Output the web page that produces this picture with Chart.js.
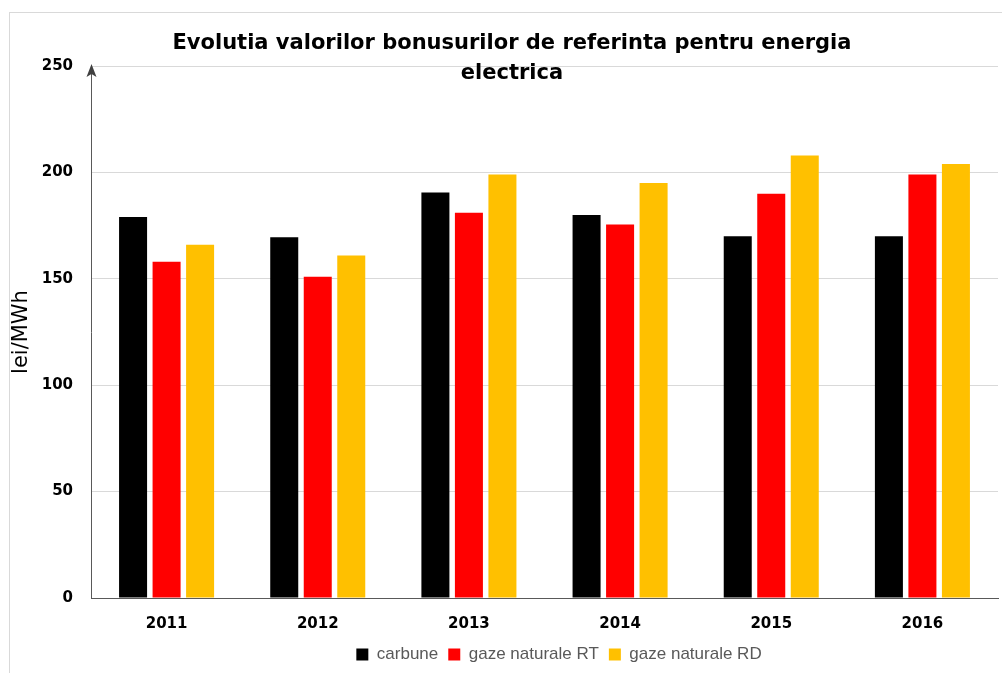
<!DOCTYPE html>
<html>
<head>
<meta charset="utf-8">
<script src="https://cdn.jsdelivr.net/npm/chart.js@4.4.1/dist/chart.umd.min.js"></script>
<style>
  html, body { margin: 0; padding: 0; background: #ffffff; overflow: hidden; }
  #wrap { position: relative; width: 1002px; height: 673px; }
  #frame { position: absolute; left: 9px; top: 12px; width: 1200px; height: 800px;
           border-left: 1px solid #d9d9d9; border-top: 1px solid #d9d9d9; }
  #c { position: absolute; left: 0; top: 0; }
</style>
</head>
<body>
<div id="wrap">
  <div id="frame"></div>
  <canvas id="c" width="1002" height="673"></canvas>
</div>
<script>
// date (lei/MWh)
const years = ['2011', '2012', '2013', '2014', '2015', '2016'];
const carbune = [179, 169.5, 190.5, 180, 170, 170];
const gazeRT = [158, 151, 181, 175.5, 190, 199];
const gazeRD = [166, 161, 199, 195, 208, 204];
const seriesNames = ['carbune', 'gaze naturale RT', 'gaze naturale RD'];
const titleLines = ['Evolutia valorilor bonusurilor de referinta pentru energia', 'electrica'];
const yMin = 0, yMax = 250, yStep = 50;

const COLORS = ['#000000', '#ff0000', '#ffc000'];

// titlul peste zona graficului, ca in Excel
const titlePlugin = {
    id: 'overTitle',
    afterDraw(chart) {
        const ctx = chart.ctx;
        ctx.save();
        ctx.fillStyle = '#000000';
        ctx.font = 'bold 21px "DejaVu Sans"';
        ctx.textAlign = 'center';
        ctx.textBaseline = 'alphabetic';
        ctx.fillText(titleLines[0], 512, 49);
        ctx.fillText(titleLines[1], 512, 79);
        ctx.restore();
    }
};

// sageata in varful axei Y
const arrowPlugin = {
    id: 'yArrow',
    afterDraw(chart) {
        const ctx = chart.ctx;
        const x = Math.round(chart.chartArea.left) + 0.5;
        const top = chart.chartArea.top;
        ctx.save();
        ctx.fillStyle = '#404040';
        ctx.beginPath();
        ctx.moveTo(x, top - 2);
        ctx.lineTo(x - 5, top + 11);
        ctx.lineTo(x, top + 8);
        ctx.lineTo(x + 5, top + 11);
        ctx.closePath();
        ctx.fill();
        ctx.restore();
    }
};

// legenda e centrata putin mai la dreapta in original
const legendShift = {
    id: 'legendShift',
    afterLayout(chart) {
        const lg = chart.legend;
        if (!lg) return;
        lg.left += 60;
        lg.right += 60;
    }
};

new Chart(document.getElementById('c'), {
    type: 'bar',
    data: {
        labels: years,
        datasets: [
            { label: seriesNames[0], data: carbune, backgroundColor: COLORS[0] },
            { label: seriesNames[1], data: gazeRT, backgroundColor: COLORS[1] },
            { label: seriesNames[2], data: gazeRD, backgroundColor: COLORS[2] }
        ]
    },
    options: {
        responsive: false, animation: false,
        layout: { padding: { top: 66, right: 4, left: 0, bottom: 0 } },
        datasets: { bar: { categoryPercentage: 0.665, barPercentage: 0.836 } },
        plugins: {
            title: { display: false },
            tooltip: { enabled: false },
            legend: {
                display: true, position: 'bottom',
                labels: {
                    color: '#595959', boxWidth: 12, boxHeight: 12, padding: 10,
                    font: { family: '"Liberation Sans"', size: 17 }
                }
            }
        },
        scales: {
            x: {
                grid: { drawOnChartArea: false, drawTicks: false },
                border: { color: '#595959', width: 1 },
                ticks: { color: '#000000', padding: 17, font: { family: '"DejaVu Sans"', weight: 'bold', size: 15 } },
                afterFit: (s) => { s.height = 38; }
            },
            y: {
                min: yMin, max: yMax,
                grid: { color: '#d9d9d9', drawTicks: false },
                border: { color: '#595959', width: 1 },
                ticks: { stepSize: yStep, color: '#000000', padding: 18, font: { family: '"DejaVu Sans"', weight: 'bold', size: 15 } },
                title: { display: true, text: 'lei/MWh', color: '#000000', padding: { top: 9, bottom: 0 },
                         font: { family: '"DejaVu Sans"', size: 21 } },
                afterFit: (s) => { s.width = 91; }
            }
        }
    },
    plugins: [titlePlugin, arrowPlugin, legendShift]
});
</script>
</body>
</html>
